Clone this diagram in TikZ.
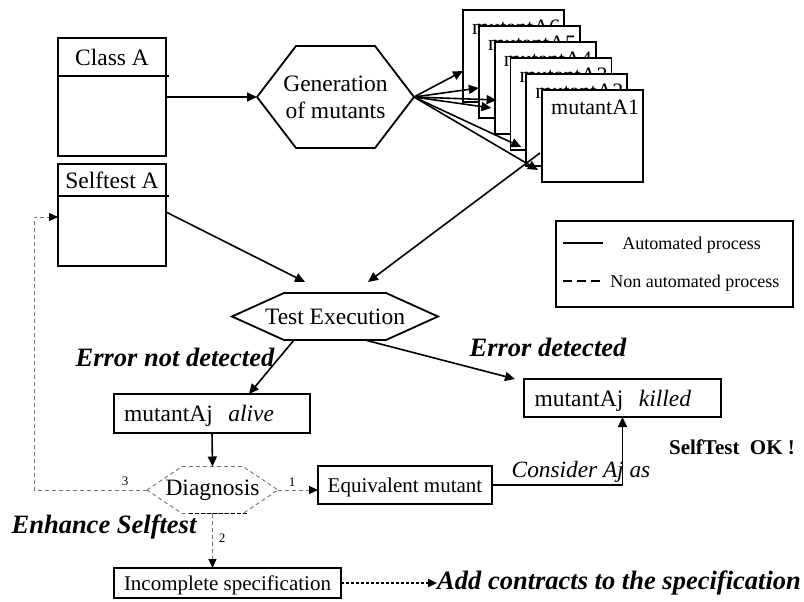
\documentclass[tikz,border=0pt]{standalone}
\usepackage{fontspec}
\setmainfont{Liberation Serif}
\usetikzlibrary{arrows.meta,positioning}

\newcommand{\mainsize}{\fontsize{23.5}{27}\selectfont}
\newcommand{\mutsize}{\fontsize{22}{24}\selectfont}
\newcommand{\smallbox}{\fontsize{21}{23}\selectfont}
\newcommand{\notesize}{\fontsize{26.5}{28}\selectfont\bfseries\itshape}
\newcommand{\legsize}{\fontsize{18}{20}\selectfont}
\newcommand{\numsize}{\fontsize{13}{13}\selectfont}
\newcommand{\hexframe}[3][]{\draw[#1] (#2.west) -- ([xshift=#3]#2.north west) -- ([xshift=-#3]#2.north east) -- (#2.east) -- ([xshift=-#3]#2.south east) -- ([xshift=#3]#2.south west) -- cycle;}

\tikzset{
  box/.style={draw, line width=1.8pt, outer sep=0pt, text depth=0pt},
  mutbox/.style={box, fill=white, anchor=north west, minimum width=101pt, minimum height=92pt},
  hexa/.style={outer sep=0pt, font=\mainsize, align=center},
  arr/.style={line width=1.6pt, -{Triangle[length=10pt,width=9pt]}},
  manual/.style={draw=black!55, line width=0.9pt, dash pattern=on 4pt off 3pt},
  manualarr/.style={manual, -{Triangle[length=9pt,width=8pt,color=black]}},
  num/.style={font=\numsize}
}

\begin{document}
\begin{tikzpicture}[x=1pt,y=-1pt]
                    \tikzstyle{every node}+=[inner sep=0pt]
                    \useasboundingbox (0,0) rectangle (804,602);
                    \node[box, minimum width=108pt, minimum height=118pt] (classA) at (112,97) {};
                    \node[font=\mainsize] (classAt) at (112,57) {Class A};
                    \draw[line width=1.6pt] (58,76) -- (169,76);
                    \node[box, minimum width=108pt, minimum height=102pt] (self) at (112,215) {};
                    \node[font=\mainsize] (selft) at (112,180) {Selftest A};
                    \draw[line width=1.6pt] (58,196) -- (169,196);
                    \node[hexa, minimum width=157pt, minimum height=102pt] (gen) at (335.5,97) {Generation\\of mutants};
                    \hexframe[line width=1.8pt]{gen}{39pt}
                    \foreach \k in {6,...,1}{
                        \node[mutbox] (m\k) at ({542-15.8*(\k-1)},{90-16*(\k-1)}) {};
                        \node[anchor=west, font=\mutsize] (m\k t) at ([shift={(9,17)}]m\k.north west) {mutantA\k};
                    }
                    \draw[arr] (classA.east) -- (gen.west);
                    \foreach \k/\dx/\dy in {6/0/61, 5/0/62, 4/2/58, 3/-19/50, 2/-5/73, 1/-4/80}
                        \draw[arr] (gen.east) -- ([shift={(\dx,\dy)}]m\k.north west);
                    \node[hexa, minimum width=206pt, minimum height=47pt] (test) at (335,316.5) {Test Execution};
                    \hexframe[line width=1.8pt]{test}{52pt}
                    \draw[arr] ([shift={(-2,63)}]m1.north west) -- ([shift={(33,-11)}]test.north);
                    \draw[arr] ([shift={(0,-3)}]self.east) -- ([shift={(-30,-11)}]test.north);
                    \node[draw, line width=1.6pt, minimum width=237pt, minimum height=86pt] (legend) at (674.5,264) {};
                    \draw[line width=2.2pt] ([shift={(8,-21)}]legend.west) -- ([shift={(48,-21)}]legend.west);
                    \node[anchor=west, font=\legsize] (legauto) at ([shift={(67,-19)}]legend.west) {Automated process};
                    \draw[line width=2.2pt, dash pattern=on 9pt off 5pt] ([shift={(8,17)}]legend.west) -- ([shift={(48,17)}]legend.west);
                    \node[anchor=west, font=\legsize] (legman) at ([shift={(55,19)}]legend.west) {Non automated process};
                    \node[box, minimum width=196pt, minimum height=39pt, text width=176pt, align=left, font=\mainsize] (alive) at (212,413.5) {mutantAj\ \ \textit{alive}};
                    \node[box, minimum width=197pt, minimum height=38pt, text width=176pt, align=left, font=\mainsize] (killed) at (622.5,398) {mutantAj\ \ \textit{killed}};
                    \draw[arr] ([xshift=-41pt]test.south) -- ([xshift=37pt]alive.north);
                    \draw[arr] ([xshift=30pt]test.south) -- ([xshift=-9pt]killed.north west);
                    \node[font=\notesize] (notdet) at (175,357) {Error not detected};
                    \node[font=\notesize] (det) at (548,347) {Error detected};
                    \node[hexa, minimum width=131pt, minimum height=47pt] (diag) at (212.5,490) {Diagnosis};
                    \hexframe[manual]{diag}{35pt}
                    \draw[line width=1.4pt, dash pattern=on 4pt off 2pt] ([xshift=-24pt]diag.south) -- ([xshift=35pt]diag.south);
                    \draw[arr] (alive.south) -- (diag.north);
                    \node[box, minimum width=174pt, minimum height=38pt, font=\smallbox] (equiv) at (405,485) {Equivalent mutant};
                    \node[box, minimum width=227pt, minimum height=30pt, font=\smallbox] (inc) at (227.5,583) {Incomplete specification};
                    \draw[manualarr] (diag.east) -- (diag.east -| equiv.west);
                    \node[num] (n1) at (292,482) {1};
                    \coordinate (back) at (34,217);
                    \draw[manualarr] (diag.west) -| (back) -- (back -| self.west);
                    \node[num] (n3) at (125,481) {3};
                    \draw[manualarr] (diag.south) -- (diag.south |- inc.north);
                    \node[num] (n2) at (222,538) {2};
                    \node[font=\notesize] (enh) at (104,527) {Enhance Selftest};
                    \node[anchor=west, font=\notesize] (add) at (437,583) {Add contracts to the specification};
                    \draw[line width=1.6pt, dash pattern=on 3pt off 2pt, -{Triangle[length=9pt,width=8pt]}] (inc.east) -- (add.west);
                    \draw[arr] (equiv.east) -| (killed.south);
                    \node[font=\fontsize{23.3}{25}\selectfont\itshape] (cons) at (581,472) {Consider Aj as};
                    \node[font=\fontsize{21}{23}\selectfont\bfseries] (ok) at (732,447) {SelfTest\ \ OK !};
                \end{tikzpicture}
\end{document}
